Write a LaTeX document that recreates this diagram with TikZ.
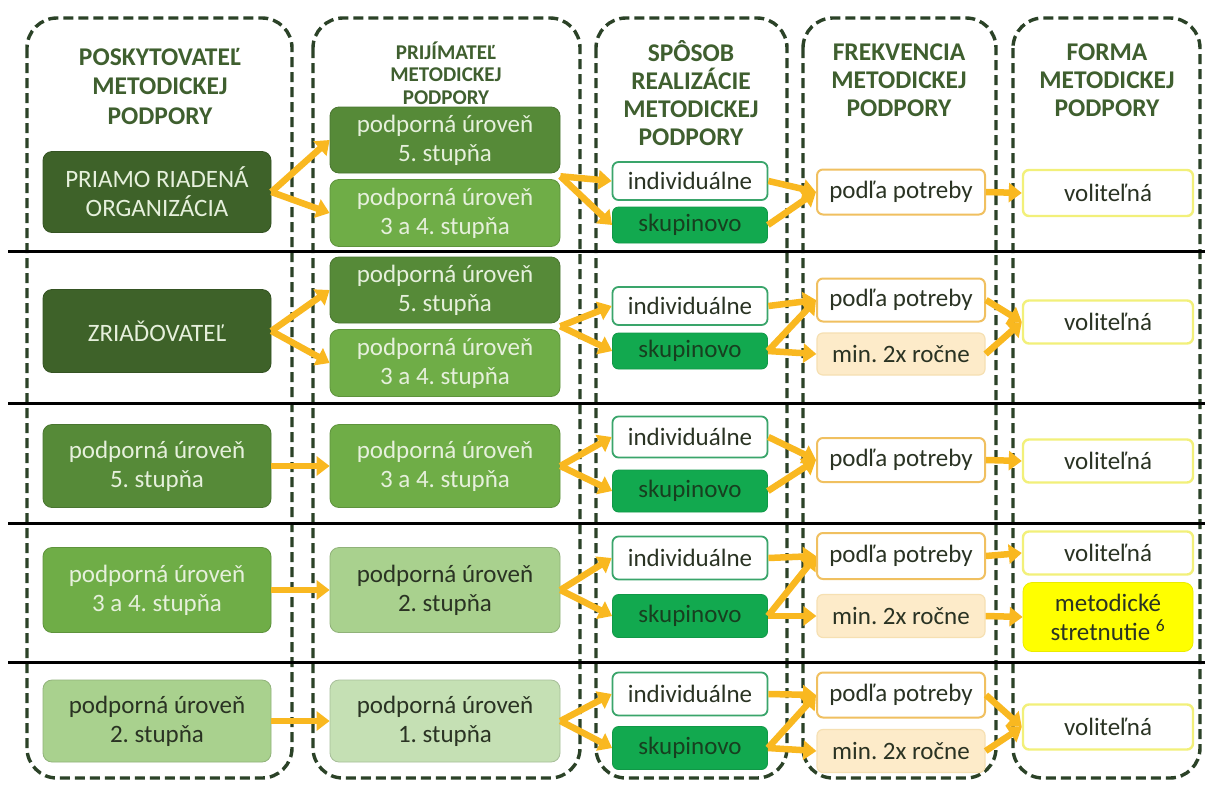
\documentclass[tikz,border=0pt]{standalone}
\usepackage{fontspec}
\setmainfont{Carlito}
\frenchspacing
\usetikzlibrary{arrows.meta,calc}
\definecolor{colborder}{HTML}{2B4227}
\definecolor{hdrgreen}{HTML}{3F5F2F}
\definecolor{gA}{HTML}{3E6229}
\definecolor{gB}{HTML}{568A38}
\definecolor{gC}{HTML}{6FAD47}
\definecolor{gD}{HTML}{A9D18E}
\definecolor{gE}{HTML}{C5E0B4}
\definecolor{paletext}{HTML}{E6F0DC}
\definecolor{darktext}{HTML}{2A3323}
\definecolor{skupfill}{HTML}{12A94F}
\definecolor{skuptext}{HTML}{173F1F}
\definecolor{indivborder}{HTML}{3AA56B}
\definecolor{podborder}{HTML}{F0C060}
\definecolor{minfill}{HTML}{FDEBC9}
\definecolor{minborder}{HTML}{F6E0B2}
\definecolor{volborder}{HTML}{F2F07A}
\definecolor{metfill}{HTML}{FFFF00}
\definecolor{arrowc}{HTML}{F9B820}
\tikzset{
  colbox/.style={draw=colborder, line width=3.4pt, dash pattern=on 10pt off 5pt, rounded corners=30pt},
  hline/.style={draw=black, line width=3pt},
  hdr/.style={font=\bfseries\fontsize{25.5}{28}\selectfont, text=hdrgreen, align=center, inner sep=0pt},
  hdrsmall/.style={font=\bfseries\fontsize{21}{22.5}\selectfont, text=hdrgreen, align=center, inner sep=0pt},
  basebox/.style={rounded corners=9pt, align=center, inner sep=0pt, font=\fontsize{25}{29}\selectfont},
  gbox/.style={basebox, fill=#1, draw=#1!85!black, line width=0.8pt},
  wide1/.style={minimum width=228pt},
  wide2/.style={minimum width=230pt},
  indivbox/.style={basebox, rounded corners=6pt, fill=white, draw=indivborder, line width=1.8pt, minimum width=155pt, text=darktext},
  skupbox/.style={basebox, rounded corners=6pt, fill=skupfill, draw=skupfill!90!black, line width=0.8pt, minimum width=155pt, text=skuptext},
  podbox/.style={basebox, rounded corners=6pt, fill=white, draw=podborder, line width=2pt, minimum width=168pt, text=darktext},
  minbox/.style={basebox, rounded corners=6pt, fill=minfill, draw=minborder, line width=1.2pt, minimum width=168pt, text=darktext},
  volbox/.style={basebox, rounded corners=6pt, fill=white, draw=volborder, line width=2.4pt, minimum width=170pt, text=darktext},
  metbox/.style={basebox, rounded corners=9pt, fill=metfill, draw=metfill!92!black, line width=0.8pt, minimum width=170pt, text=darktext},
  arr/.style={draw=arrowc, line width=6.5pt, -{Triangle[length=13pt,width=19pt]}},
}
\begin{document}
\begin{tikzpicture}[x=1pt,y=-1pt]
\useasboundingbox (0,0) rectangle (1205,785);
\fill[white] (0,0) rectangle (1205,785);
% columns
\draw[colbox] (27,18) rectangle (292,778);
\draw[colbox] (313,18) rectangle (580,778);
\draw[colbox] (596,18) rectangle (787,778);
\draw[colbox] (803,18) rectangle (996,778);
\draw[colbox] (1013,18) rectangle (1200,778);
% row separators
\foreach \yy in {251,403,523,662} \draw[hline] (8,\yy) -- (1205,\yy);
% headers
\node[hdr, font=\bfseries\fontsize{25.5}{29.5}\selectfont] (h1) at (160,86) {POSKYTOVATEĽ\\METODICKEJ\\PODPORY};
\node[hdrsmall] (h2) at (446,73) {PRIJÍMATEĽ\\METODICKEJ\\PODPORY};
\node[hdr] (h3) at (691,93) {SPÔSOB\\REALIZÁCIE\\METODICKEJ\\PODPORY};
\node[hdr] (h4) at (899,80) {FREKVENCIA\\METODICKEJ\\PODPORY};
\node[hdr] (h5) at (1107,80) {FORMA\\METODICKEJ\\PODPORY};
% column 1
\node[gbox=gA, wide1, minimum height=81pt, text=paletext] (a1) at (157,192) {PRIAMO RIADENÁ\\ORGANIZÁCIA};
\node[gbox=gA, wide1, minimum height=83pt, text=paletext] (a2) at (157,331) {ZRIAĎOVATEĽ};
\node[gbox=gB, wide1, minimum height=83pt, text=paletext] (a3) at (157,466) {podporná úroveň\\5. stupňa};
\node[gbox=gC, wide1, minimum height=85pt, text=paletext] (a4) at (157,590) {podporná úroveň\\3 a 4. stupňa};
\node[gbox=gD, wide1, minimum height=82pt, text=darktext] (a5) at (157,721) {podporná úroveň\\2. stupňa};
% column 2
\node[gbox=gB, wide2, minimum height=66pt, text=paletext] (b1a) at (445,140) {podporná úroveň\\5. stupňa};
\node[gbox=gC, wide2, minimum height=67pt, text=paletext] (b1b) at (445,213) {podporná úroveň\\3 a 4. stupňa};
\node[gbox=gB, wide2, minimum height=66pt, text=paletext] (b2a) at (445,290) {podporná úroveň\\5. stupňa};
\node[gbox=gC, wide2, minimum height=67pt, text=paletext] (b2b) at (445,363) {podporná úroveň\\3 a 4. stupňa};
\node[gbox=gC, wide2, minimum height=83pt, text=paletext] (b3) at (445,466) {podporná úroveň\\3 a 4. stupňa};
\node[gbox=gD, wide2, minimum height=85pt, text=darktext] (b4) at (445,590) {podporná úroveň\\2. stupňa};
\node[gbox=gE, wide2, minimum height=82pt, text=darktext] (b5) at (445,721) {podporná úroveň\\1. stupňa};
% column 3
\node[indivbox, minimum height=38pt] (i1) at (690,181) {individuálne};
\node[skupbox, minimum height=36pt] (s1) at (690,225) {skupinovo};
\node[indivbox, minimum height=38pt] (i2) at (690,306) {individuálne};
\node[skupbox, minimum height=36pt] (s2) at (690,351) {skupinovo};
\node[indivbox, minimum height=41pt] (i3) at (690,437) {individuálne};
\node[skupbox, minimum height=42pt] (s3) at (690,491) {skupinovo};
\node[indivbox, minimum height=43pt] (i4) at (690,558) {individuálne};
\node[skupbox, minimum height=43pt] (s4) at (690,616) {skupinovo};
\node[indivbox, minimum height=43pt] (i5) at (690,694) {individuálne};
\node[skupbox, minimum height=43pt] (s5) at (690,748) {skupinovo};
% column 4
\node[podbox, minimum height=45pt] (p1) at (901,192) {podľa potreby};
\node[podbox, minimum height=43pt] (p2) at (901,300) {podľa potreby};
\node[minbox, minimum height=42pt] (m2) at (901,354) {min. 2x ročne};
\node[podbox, minimum height=44pt] (p3) at (901,460) {podľa potreby};
\node[podbox, minimum height=46pt] (p4) at (901,556) {podľa potreby};
\node[minbox, minimum height=43pt] (m4) at (901,616) {min. 2x ročne};
\node[podbox, minimum height=45pt] (p5) at (901,695) {podľa potreby};
\node[minbox, minimum height=43pt] (m5) at (901,751) {min. 2x ročne};
% column 5
\node[volbox, minimum height=46pt] (v1) at (1108,193) {voliteľná};
\node[volbox, minimum height=43pt] (v2) at (1108,322) {voliteľná};
\node[volbox, minimum height=43pt] (v3) at (1108,461) {voliteľná};
\node[volbox, minimum height=43pt] (v4) at (1108,553) {voliteľná};
\node[metbox, minimum height=69pt] (t4) at (1108,617) {metodické\\stretnutie \textsuperscript{6}};
\node[volbox, minimum height=45pt] (v5) at (1108,727) {voliteľná};
% gap coordinates in column 2
\coordinate (g1) at ($(b1a.south east)!0.5!(b1b.north east)$);
\coordinate (g2) at ($(b2a.south east)!0.5!(b2b.north east)$);
% row 1 arrows
\draw[arr] (a1.east) -- (b1a.west);
\draw[arr] (a1.east) -- (b1b.west);
\draw[arr] (g1) -- (i1.west);
\draw[arr] (g1) -- (s1.west);
\draw[arr] (i1.east) -- (p1.west);
\draw[arr] (s1.east) -- (p1.west);
\draw[arr] (p1.east) -- (v1.west);
% row 2 arrows
\draw[arr] (a2.east) -- (b2a.west);
\draw[arr] (a2.east) -- (b2b.west);
\draw[arr] (g2) -- (i2.west);
\draw[arr] (g2) -- (s2.west);
\draw[arr] (i2.east) -- (p2.west);
\draw[arr] (s2.east) -- (p2.west);
\draw[arr] (s2.east) -- (m2.west);
\draw[arr] (p2.east) -- (v2.west);
\draw[arr] (m2.east) -- (v2.west);
% row 3 arrows
\draw[arr] (a3.east) -- (b3.west);
\draw[arr] (b3.east) -- (i3.west);
\draw[arr] (b3.east) -- (s3.west);
\draw[arr] (i3.east) -- (p3.west);
\draw[arr] (s3.east) -- (p3.west);
\draw[arr] (p3.east) -- (v3.west);
% row 4 arrows
\draw[arr] (a4.east) -- (b4.west);
\draw[arr] (b4.east) -- (i4.west);
\draw[arr] (b4.east) -- (s4.west);
\draw[arr] (i4.east) -- (p4.west);
\draw[arr] (s4.east) -- (p4.west);
\draw[arr] (s4.east) -- (m4.west);
\draw[arr] (p4.east) -- (v4.west);
\draw[arr] (m4.east) -- (t4.west);
% row 5 arrows
\draw[arr] (a5.east) -- (b5.west);
\draw[arr] (b5.east) -- (i5.west);
\draw[arr] (b5.east) -- (s5.west);
\draw[arr] (i5.east) -- (p5.west);
\draw[arr] (s5.east) -- (p5.west);
\draw[arr] (s5.east) -- (m5.west);
\draw[arr] (p5.east) -- (v5.west);
\draw[arr] (m5.east) -- (v5.west);
\end{tikzpicture}
\end{document}
